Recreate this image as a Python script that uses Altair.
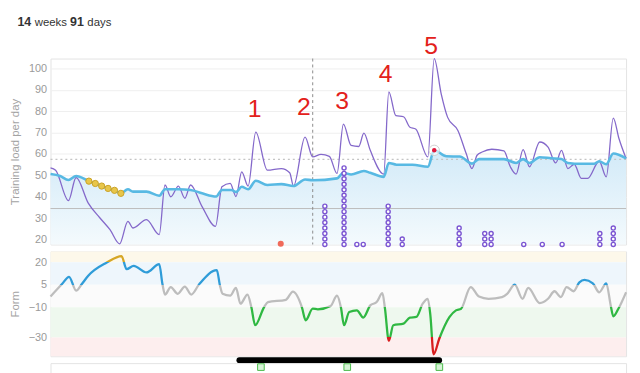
import altair as alt
import pandas as pd

# ---------------- data ----------------
week_ticks = [6, 13, 20, 27, 34, 41, 48, 55, 62, 69, 76, 83]
load_ticks = [20, 30, 40, 50, 60, 70, 80, 90, 100]
form_ticks = [20, 5, -10, -30]

load_days = [0, 0.8, 2.8, 4, 5.9, 7.7, 9.3, 10.8, 12.1, 12.9, 15, 17, 17.9, 18.8, 20, 21, 21.9,
             23.7, 25.8, 26.8, 28.1, 29, 29.9, 30.9, 32.1, 33.9, 36.1, 37.4, 38.0, 39.8, 41,
             42.3, 43.6, 44.8, 45.8, 47, 48.2, 49, 50, 52.1, 52.9, 54, 55.2, 56.2, 57.1, 59,
             60, 61.1, 62.1, 63.7, 65, 65.9, 66.7, 67.5, 69, 70.9, 71.9, 72.8, 73.9, 74.9,
             76.5, 77.8, 79, 79.9, 80.9, 81.9, 83, 84, 85.8, 86.9, 88, 88.9, 90]
load_values = [53.5, 52.4, 38.2, 49, 37, 30.2, 24.6, 18, 28.5, 25.4, 29.3, 22.3, 45.5, 40, 45,
               39.3, 45.5, 35.4, 26.2, 44.7, 46.3, 40.1, 51.6, 45, 70.2, 52.4, 53.2, 51.2, 45,
               67.9, 58.6, 59.8, 58.9, 50.9, 74, 64, 63.5, 69.7, 61.7, 50.6, 89, 77.9, 77.4,
               72.5, 71.7, 58.6, 104.6, 88, 77.1, 71, 60.2, 53.2, 59.4, 60.9, 62.2, 61.4, 54,
               50.6, 62, 54, 65.6, 63.2, 55.8, 61.7, 53.2, 55.2, 48.6, 48.6, 56.6, 49.3, 76.8,
               67.1, 57.9]

fitness_days = [0, 1.5, 2.8, 4, 6, 7, 8, 9, 10, 11, 12.1, 12.9, 15, 17, 17.9, 20, 21.9, 23.7,
                25.9, 26.8, 28.3, 29, 29.9, 30.9, 32.1, 33.9, 36.1, 38, 39.8, 41, 44.8, 45.8,
                47, 49, 50, 52.1, 52.9, 54.1, 56.6, 59, 60, 61.9, 64, 65.9, 67, 69, 70.9, 72.8,
                73.9, 74.9, 76.5, 78.3, 79.9, 80.9, 83, 85, 85.8, 86.9, 88, 90]
fitness_values = [50.6, 49.7, 47.8, 49.7, 47.3, 46.2, 45.0, 43.9, 43.0, 41.6, 43.5, 42.4, 42.4,
                  40.5, 43.5, 43.5, 43.2, 41.6, 40.1, 43.2, 43.2, 42.2, 44.7, 43.5, 47.5, 45.5,
                  45.9, 45, 48.1, 47.7, 48.6, 51.2, 50.4, 52, 51.2, 49.3, 55.8, 55, 55, 54,
                  61.7, 58.9, 58.8, 55.5, 57.6, 57.6, 57.6, 55.8, 57.6, 55.8, 58.5, 58, 57.6,
                  55.8, 55.4, 55.4, 56.6, 55.2, 60.2, 57.9]

ramp_days = [6, 7, 8, 9, 10, 11]
ramp_values = [47.3, 46.2, 45.0, 43.9, 43.0, 41.6]

stack_days = [42.9, 45.9, 47.9, 48.9, 52.8, 55.0, 63.9, 67.9, 68.9, 74.0, 76.9, 80.0, 85.9, 88.0]
stack_counts = [8, 15, 1, 1, 8, 2, 4, 3, 3, 1, 1, 1, 3, 4]

marker_days = [36]
marker_values = [18]
peak_days = [60]
peak_values = [61.7]

note_labels = ["1", "2", "3", "4", "5"]
note_days = [31.9, 39.6, 45.6, 52.4, 59.5]
note_values = [81.0, 82.1, 84.9, 97.2, 110.6]

threshold_load = [34.5]
target_load = [57.5]
split_day = [41]

form_days = [0, 1.8, 2.9, 4.0, 4.9, 5.9, 8.8, 11.1, 11.9, 13.0, 15.0, 17.0, 17.5, 17.9, 18.8,
             19.9, 21.0, 22.0, 23.2, 26.0, 26.5, 26.9, 28.1, 29.0, 29.7, 30.8, 31.4, 32.0,
             33.4, 34.0, 36.8, 37.9, 39.3, 39.9, 41.0, 41.8, 43.8, 44.8, 45.4, 45.9, 46.7,
             47.9, 48.9, 50.0, 51.0, 51.9, 52.3, 52.9, 53.6, 55.2, 56.2, 57.2, 58.2, 59.0,
             59.4, 59.9, 60.8, 62.4, 63.4, 64.2, 65.7, 67.0, 68.5, 70.6, 71.4, 72.6, 73.8,
             74.7, 76.5, 77.8, 78.8, 79.8, 80.7, 81.8, 82.7, 83.5, 84.8, 85.8, 86.9, 87.6,
             88.0, 88.8, 90.0]
form_values = [-2.8, 5.5, 10.3, 1.1, 5.5, 11, 19.8, 24.1, 15.4, 17.6, 13.2, 18.7, 5.5, -1.5, 3.4,
               -1, 3.8, -1.5, 5.1, 14.7, 4.4, -1, -2.2, 2.9, -7.6, -1.5, -9.8, -21.9, -9.8,
               -6.5, -5, 0.5, -9.8, -18.6, -10.9, -11.3, -9.1, -2.2, -9.8, -21.9, -13.1, -12,
               -16.8, -8.7, -6.5, -0.6, -10.9, -32.2, -21.9, -20.8, -16.8, -16.4, -7.6, -4.3,
               -15.3, -41.2, -30.7, -16.4, -12, -10.9, 3.4, -2.8, -4.3, -3.2, -1, 5.1, -4.3,
               2.9, -7.2, -4.3, 0.7, -3.2, 3.4, 0.7, 6.6, 8.2, 6, 0, 6, -8.7, -16, -10.9, 0]

zone_top = [27.2, 20, 5, -10, -30]
zone_bottom = [20, 5, -10, -30, -42.5]
zone_colors = ["#fdf8ea", "#eef6fc", "#fbfbfb", "#eef8ee", "#fdeeee"]
zone_levels = [20, 5, -10, -30]
zone_line_colors = ["#d6a624", "#2f9cd8", "#bdbdbd", "#2fb842", "#d81e1e"]

flag_days = [32.9, 46.4, 60.8]

# ---------------- layout ----------------
W = 582
H_TOP = 188
H_FORM = 106
H_FLAG = 20
FONT = "Liberation Sans"

LOAD_MIN, LOAD_MAX = 17.7, 104.6
FORM_MIN, FORM_MAX = -42.5, 27.2

x_scale = alt.Scale(domain=[0, 90], nice=False, zero=False)
y_load = alt.Scale(domain=[LOAD_MIN, LOAD_MAX], nice=False, zero=False)
y_form = alt.Scale(domain=[FORM_MIN, FORM_MAX], nice=False, zero=False)

load_df = pd.DataFrame({"day": load_days, "load": load_values})
fit_df = pd.DataFrame({"day": fitness_days, "fitness": fitness_values})
ramp_df = pd.DataFrame({"day": ramp_days, "fitness": ramp_values})
rows = []
for d, c in zip(stack_days, stack_counts):
    for k in range(c):
        rows.append({"day": d, "slot": k})
stack_df = pd.DataFrame(rows)
marker_df = pd.DataFrame({"day": marker_days, "load": marker_values})
peak_df = pd.DataFrame({"day": peak_days, "load": peak_values})
note_df = pd.DataFrame({"day": note_days, "load": note_values, "label": note_labels})
thr_df = pd.DataFrame({"load": threshold_load})
tgt_df = pd.DataFrame({"load": target_load})
split_df = pd.DataFrame({"day": split_day})
form_df = pd.DataFrame({"day": form_days, "form": form_values})
zone_df = pd.DataFrame({"top": zone_top, "bottom": zone_bottom, "c": zone_colors})
flag_df = pd.DataFrame({"day": flag_days, "v": [8] * len(flag_days)})

X_GRID = alt.X("day:Q", scale=x_scale,
               axis=alt.Axis(values=week_ticks, grid=True, gridColor="#dedede", gridWidth=1,
                             labels=False, ticks=False, domain=False, title=None))
X_PLAIN = alt.X("day:Q", scale=x_scale, axis=None)


def Y(field):
    return alt.Y(field, scale=y_load, axis=None)


area_fill = alt.Gradient(
    gradient="linear", x1=0, x2=0, y1=0, y2=1,
    stops=[alt.GradientStop(color="#d2eaf8", offset=0),
           alt.GradientStop(color="#f4fafd", offset=1)])

area = alt.Chart(fit_df).mark_area(interpolate="monotone", fill=area_fill).encode(
    x=X_GRID,
    y=alt.Y("fitness:Q", scale=y_load,
            axis=alt.Axis(values=load_ticks, grid=True, gridColor="#efefef", ticks=False,
                          domain=False, labelPadding=4, title="Training load per day",
                          titleX=-35, titleY=H_TOP / 2, titleAngle=270,
                          titleAlign="center", titleBaseline="middle")),
    y2=alt.Y2Datum(LOAD_MIN),
)

thr_rule = alt.Chart(thr_df).mark_rule(color="#bcbcbc", strokeWidth=1).encode(y=Y("load:Q"))
tgt_rule = alt.Chart(tgt_df).mark_rule(color="#c4c4c4", strokeWidth=1.2,
                                       strokeDash=[2, 3]).encode(y=Y("load:Q"))
split_rule = alt.Chart(split_df).mark_rule(color="#8c8c8c", strokeWidth=1,
                                           strokeDash=[3, 3]).encode(x=X_PLAIN)

load_line = alt.Chart(load_df).mark_line(interpolate="monotone", color="#8468ca",
                                         strokeWidth=1.3).encode(x=X_PLAIN, y=Y("load:Q"))
fit_line = alt.Chart(fit_df).mark_line(interpolate="monotone", color="#58b9e3",
                                       strokeWidth=2.6).encode(x=X_PLAIN, y=Y("fitness:Q"))
ramp_pts = alt.Chart(ramp_df).mark_point(filled=True, fill="#e8c64a", stroke="#c9a228",
                                         strokeWidth=1, size=40, opacity=1).encode(
    x=X_PLAIN, y=Y("fitness:Q"))

stack_pts = alt.Chart(stack_df).mark_point(shape="circle", fill="white", stroke="#7b55d2",
                                           strokeWidth=1.4, size=17, opacity=1).encode(
    x=X_PLAIN,
    y=alt.Y("slot:Q", scale=alt.Scale(domain=[0, 34], nice=False, zero=False), axis=None))

marker_pt = alt.Chart(marker_df).mark_point(filled=True, color="#f06a5a", size=38,
                                            opacity=1).encode(x=X_PLAIN, y=Y("load:Q"))
peak_halo = alt.Chart(peak_df).mark_point(filled=False, fill="white", fillOpacity=0.6,
                                          stroke="#cfcfcf", strokeWidth=1, size=110).encode(
    x=X_PLAIN, y=Y("load:Q"))
peak_pt = alt.Chart(peak_df).mark_point(filled=True, color="#e0183c", size=20,
                                        opacity=1).encode(x=X_PLAIN, y=Y("load:Q"))

notes = alt.Chart(note_df).mark_text(color="#e3211b", fontSize=25, font=FONT,
                                     baseline="middle", align="center").encode(
    x=X_PLAIN, y=Y("load:Q"), text="label:N")


def title_piece(txt, px, bold, size):
    return alt.Chart(pd.DataFrame({"t": [txt]})).mark_text(
        font=FONT, fontSize=size, fontWeight="bold" if bold else "normal", color="#333333",
        align="left", baseline="alphabetic").encode(
        x=alt.value(px), y=alt.value(-32.6), text="t:N")


title_layers = [title_piece("14", -33.5, True, 12.5), title_piece("weeks", -16.0, False, 11.5),
                title_piece("91", 19.8, True, 12.5), title_piece("days", 37.2, False, 11.5)]

top = alt.layer(area, thr_rule, tgt_rule, split_rule, load_line, fit_line, ramp_pts,
                stack_pts, marker_pt, peak_halo, peak_pt, notes, *title_layers).resolve_scale(
    y="independent").properties(width=W, height=H_TOP)

# ---------------- form panel ----------------
fmax, fmin = max(form_values), min(form_values)
span = fmax - fmin
offs = [(fmax - lv) / span for lv in zone_levels]
bounds = [0.0] + offs + [1.0]
stops = []
for i, col in enumerate(zone_line_colors):
    stops.append(alt.GradientStop(color=col, offset=bounds[i]))
    stops.append(alt.GradientStop(color=col, offset=bounds[i + 1]))
form_stroke = alt.Gradient(gradient="linear", x1=0, x2=0, y1=0, y2=1, stops=stops)

form_axis = alt.Axis(values=form_ticks, grid=False, ticks=False, domain=False,
                     labelPadding=4, title="Form", titleX=-35, titleY=H_FORM / 2,
                     titleAngle=270, titleAlign="center", titleBaseline="middle")

zones = alt.Chart(zone_df).mark_rect().encode(
    x=alt.value(0), x2=alt.value(W),
    y=alt.Y("top:Q", scale=y_form, axis=form_axis, title="Form"),
    y2="bottom:Q",
    fill=alt.Fill("c:N", scale=None),
)
form_line = alt.Chart(form_df).mark_line(interpolate="monotone", stroke=form_stroke,
                                         strokeWidth=2.3).encode(
    x=X_PLAIN, y=alt.Y("form:Q", scale=y_form, axis=form_axis, title="Form"))
home_bar = alt.Chart(pd.DataFrame({"a": [0]})).mark_rule(
    color="black", strokeWidth=6, strokeCap="round").encode(
    x=alt.value(191), x2=alt.value(393), y=alt.value(H_FORM + 4))

form = alt.layer(zones, form_line, home_bar).properties(width=W, height=H_FORM)

# ---------------- flag strip ----------------
flags = alt.Chart(flag_df).mark_point(shape="square", filled=True, fill="#d6f3d6",
                                      stroke="#4cbb4c", strokeWidth=1, size=45,
                                      opacity=1).encode(
    x=X_PLAIN, y=alt.Y("v:Q", scale=alt.Scale(domain=[0, 10], nice=False), axis=None))
strip = flags.properties(width=W, height=H_FLAG)

chart = alt.vconcat(top, form, strip, spacing=7, bounds="flush").properties(
    padding={"left": 1, "top": 5, "right": 0, "bottom": 0}
).configure_view(stroke="#e4e4e4").configure_axis(
    labelFont=FONT, labelFontSize=11, labelColor="#9a9a9a",
    titleFont=FONT, titleFontSize=11.5, titleColor="#a3a3a3", titleFontWeight="normal")

chart.save("out.html", embed_options={"renderer": "svg", "actions": False})
